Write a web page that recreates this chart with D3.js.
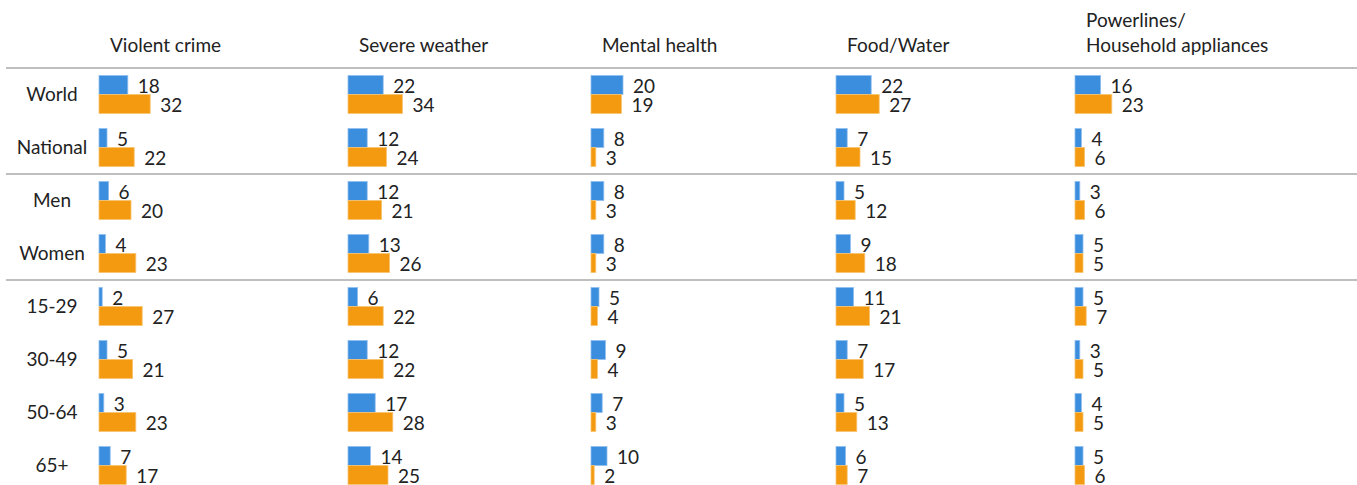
<!DOCTYPE html>
<html lang="en">
<head>
<meta charset="UTF-8">
<title>Chart</title>
<script src="https://d3js.org/d3.v7.min.js"></script>
<style>
    body { margin: 0; background: #fff; }
    svg { font-family: Lato, "Noto Sans", sans-serif; }
</style>
</head>
<body>
<div class="container"></div>
<script>
    // categories
    const topics = ["Violent crime", "Severe weather", "Mental health", "Food/Water", "Powerlines/\nHousehold appliances"];
    const groups = ["World", "National", "Men", "Women", "15-29", "30-49", "50-64", "65+"];
    // rows after which a separator is drawn
    const breaks = ["National", "Women"];

    // series values, one array per topic, in the order of groups
    const blue = [
        [18, 5, 6, 4, 2, 5, 3, 7],
        [22, 12, 12, 13, 6, 12, 17, 14],
        [20, 8, 8, 8, 5, 9, 7, 10],
        [22, 7, 5, 9, 11, 7, 5, 6],
        [16, 4, 3, 5, 5, 3, 4, 5]
    ];
    const orange = [
        [32, 22, 20, 23, 27, 21, 23, 17],
        [34, 24, 21, 26, 22, 22, 28, 25],
        [19, 3, 3, 3, 4, 4, 3, 2],
        [27, 15, 12, 18, 21, 17, 13, 7],
        [23, 6, 6, 5, 7, 5, 5, 6]
    ];

    const W = 1357, H = 485;
    const svg = d3.select(".container").append("svg")
        .attr("width", W).attr("height", H);

    // column start positions
    const col = d3.scaleOrdinal().domain(topics).range([99, 348, 591, 836, 1075]);
    const row = d3.scaleBand().domain(groups).range([68, 68 + 53 * groups.length]);
    const len = d3.scaleLinear().domain([0, 10]).range([0, 16]);
    const barH = 19;
    const fs = 19;

    // header
    topics.forEach(t => {
        const lines = t.split("\n");
        const txt = svg.append("text")
            .attr("font-size", fs)
            .attr("fill", "#222");
        lines.forEach((l, i) => {
            txt.append("tspan")
                .attr("x", col(t) + 11)
                .attr("y", 52 - (lines.length - 1 - i) * 25)
                .text(l);
        });
    });

    // separators
    const seps = [row.range()[0]].concat(breaks.map(b => row(b) + row.bandwidth()));
    svg.selectAll(".sep").data(seps).join("line")
        .attr("x1", 6).attr("x2", W)
        .attr("y1", d => d).attr("y2", d => d)
        .attr("stroke", "#bfbfbf").attr("stroke-width", 2);

    // row labels
    svg.selectAll(".rowlab").data(groups).join("text")
        .attr("x", 52)
        .attr("y", d => row(d) + row.bandwidth() / 2 + 6)
        .attr("text-anchor", "middle")
        .attr("font-size", fs)
        .attr("fill", "#222")
        .text(d => d);

    // bars per topic
    topics.forEach((t, ti) => {
        const g = svg.append("g");
        const series = [
            { vals: blue[ti], fill: "#3b8ddd", stroke: "#8fbff0", off: 0 },
            { vals: orange[ti], fill: "#f39a10", stroke: "#f8c472", off: barH }
        ];
        series.forEach(s => {
            const top = d => row(d) + (row.bandwidth() - 2 * barH) / 2 + s.off;
            g.selectAll(null).data(groups).join("rect")
                .attr("x", col(t))
                .attr("y", (d) => top(d))
                .attr("width", (d, i) => len(s.vals[i]))
                .attr("height", barH)
                .attr("fill", s.fill)
                .attr("stroke", s.stroke)
                .attr("stroke-width", 0.8);
            g.selectAll(null).data(groups).join("text")
                .attr("x", (d, i) => col(t) + len(s.vals[i]) + 10)
                .attr("y", d => top(d) + barH - 1.5)
                .attr("font-size", fs)
                .attr("fill", "#222")
                .text((d, i) => s.vals[i]);
        });
    });
</script>
</body>
</html>
